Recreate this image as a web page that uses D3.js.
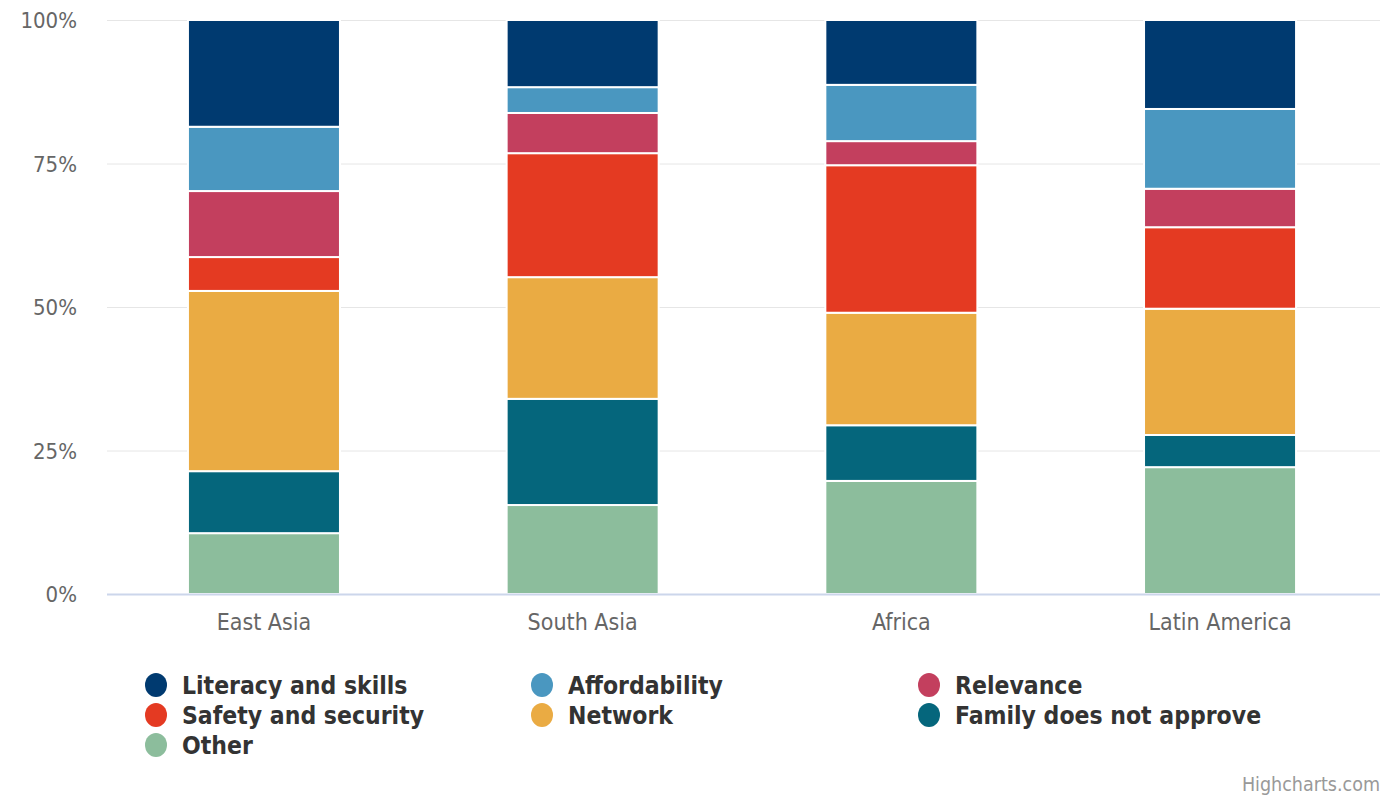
<!DOCTYPE html>
<html>
<head>
<meta charset="utf-8">
<script src="https://cdn.jsdelivr.net/npm/d3@7"></script>
<style>
  body { margin: 0; background: #fff; }
  svg { font-family: 'DejaVu Sans Condensed', 'DejaVu Sans', sans-serif; }
</style>
</head>
<body>
<script>
// Data
const REGIONS = ['East Asia', 'South Asia', 'Africa', 'Latin America']
const SERIES = [
  'Literacy and skills',
  'Affordability',
  'Relevance',
  'Safety and security',
  'Network',
  'Family does not approve',
  'Other'
]
const COLORS = ['#003a70', '#4a97c0', '#c33f5e', '#e43a22', '#eaab43', '#05667c', '#8cbd9c']

// values per series, one per region (percent)
const literacy = [18.6, 11.7, 11.3, 15.5]
const affordability = [11.2, 4.5, 9.8, 13.9]
const relevance = [11.5, 7.0, 4.2, 6.7]
const safety = [5.9, 21.6, 25.7, 14.2]
const network = [31.4, 21.2, 19.6, 22.0]
const family = [10.8, 18.5, 9.7, 5.6]
const other = [10.6, 15.5, 19.7, 22.1]
const VALUES = [literacy, affordability, relevance, safety, network, family, other]
const TICKS = [0, 25, 50, 75, 100]

// Initialization
const width = 1400
const height = 800
const margin = { top: 20, right: 20, bottom: 206, left: 107 }

const svg = d3.select('body').append('svg')
  .attr('width', width)
  .attr('height', height)

// bars sit a touch left of the plot's right edge
const x = d3.scaleBand()
  .domain(REGIONS)
  .range([margin.left, width - margin.right - 3])
  .paddingInner(0.523)
  .paddingOuter(0.254)

const y = d3.scaleLinear()
  .domain([0, 100])
  .range([height - margin.bottom, margin.top])

// Build stacked table, Other at bottom
const table = REGIONS.map((r, i) => {
  const row = { region: r }
  SERIES.forEach((s, j) => { row[s] = VALUES[j][i] })
  return row
})
const stack = d3.stack()
  .keys(SERIES.slice().reverse())
  .offset(d3.stackOffsetExpand)
const stacked = stack(table)

// Grid lines
svg.append('g')
  .selectAll('line')
  .data(TICKS.filter(t => t > 0))
  .enter()
  .append('line')
  .attr('x1', margin.left)
  .attr('x2', width - margin.right)
  .attr('y1', d => y(d) + 0.5)
  .attr('y2', d => y(d) + 0.5)
  .style('stroke', '#e6e6e6')
  .style('stroke-width', 1)

// Y labels
svg.append('g')
  .selectAll('text')
  .data(TICKS)
  .enter()
  .append('text')
  .attr('x', 77)
  .attr('y', d => y(d) + 8)
  .style('text-anchor', 'end')
  .style('font-size', '22px')
  .style('fill', '#666')
  .text(d => `${d}%`)

// Bars
svg.append('g')
  .selectAll('g')
  .data(stacked)
  .enter()
  .append('g')
  .attr('fill', d => COLORS[SERIES.indexOf(d.key)])
  .selectAll('rect')
  .data(d => d)
  .enter()
  .append('rect')
  .attr('x', d => x(d.data.region))
  .attr('width', x.bandwidth())
  .attr('y', d => y(d[1] * 100))
  .attr('height', d => y(d[0] * 100) - y(d[1] * 100))
  .style('stroke', '#fff')
  .style('stroke-width', 2)

// X axis line
svg.append('line')
  .attr('x1', margin.left)
  .attr('x2', width - margin.right)
  .attr('y1', y(0) + 0.5)
  .attr('y2', y(0) + 0.5)
  .style('stroke', '#ccd6eb')
  .style('stroke-width', 2)

// X labels
svg.append('g')
  .selectAll('text')
  .data(REGIONS)
  .enter()
  .append('text')
  .attr('x', d => x(d) + x.bandwidth() / 2)
  .attr('y', 630)
  .style('text-anchor', 'middle')
  .style('font-size', '23px')
  .style('fill', '#666')
  .text(d => d)

// Legend
const legendX = [156, 542, 929]
const legendY = [685, 715, 745]
const legend = svg.append('g')
  .selectAll('g')
  .data(SERIES)
  .enter()
  .append('g')
  .attr('transform', (_, i) => `translate(${legendX[i % 3]},${legendY[Math.floor(i / 3)]})`)

legend.append('ellipse')
  .attr('rx', 11)
  .attr('ry', 12)
  .attr('fill', (_, i) => COLORS[i])

legend.append('text')
  .attr('x', 26)
  .attr('y', 9)
  .style('font-size', '24.5px')
  .style('font-weight', 'bold')
  .style('fill', '#333')
  .text(d => d)

// Credit
svg.append('text')
  .attr('x', 1380)
  .attr('y', 791)
  .style('text-anchor', 'end')
  .style('font-size', '19.5px')
  .style('fill', '#999')
  .text('Highcharts.com')
</script>
</body>
</html>
